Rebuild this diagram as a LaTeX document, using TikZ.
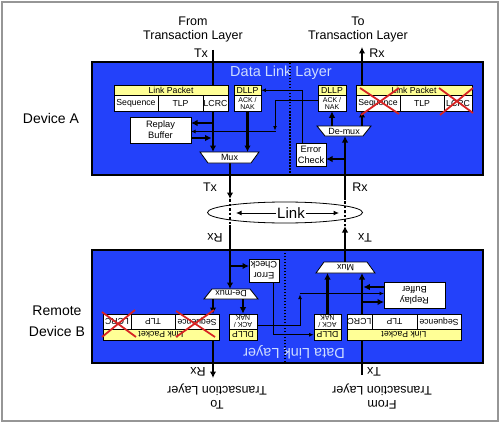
\documentclass[tikz,border=0pt]{standalone}
\usepackage{fontspec}
\setmainfont{Liberation Sans}
\usetikzlibrary{arrows.meta,shapes.geometric}
\definecolor{dlblue}{RGB}{35,65,250}
\definecolor{pyellow}{RGB}{255,255,150}
\definecolor{xred}{RGB}{215,35,35}
\definecolor{dltext}{RGB}{205,220,255}
\definecolor{framegray}{RGB}{150,150,150}
\tikzset{
  dllbox/.style={draw=black, fill=dlblue, line width=1.3pt, minimum width=391pt, minimum height=113pt, inner sep=0pt},
  dlltxt/.style={text=dltext, font=\fontsize{14.5}{16}\selectfont, inner sep=0pt},
  hdr/.style={draw=black, fill=pyellow, line width=0.6pt, inner sep=0pt, minimum height=10.5pt, font=\fontsize{8.7}{9}\selectfont},
  cell/.style={draw=black, fill=white, line width=0.6pt, inner sep=0pt, minimum height=15.5pt, font=\fontsize{8.7}{9}\selectfont},
  acktxt/.style={cell, align=center, font=\fontsize{7}{7.5}\selectfont},
  boxtxt/.style={draw=black, fill=white, line width=0.8pt, inner sep=0pt, align=center, font=\fontsize{9.3}{11}\selectfont},
  muxshape/.style={draw=black, fill=white, line width=0.8pt},
  muxtxt/.style={inner sep=0pt, font=\fontsize{9}{10}\selectfont},
  lbl/.style={inner sep=0pt, align=center, font=\fontsize{12.5}{14}\selectfont},
  devlbl/.style={inner sep=0pt, align=center, font=\fontsize{14}{21}\selectfont},
  thk/.style={line width=2.8pt, -{Latex[length=6.5pt,width=6.5pt]}},
  thn/.style={line width=0.9pt, -{Latex[length=4.5pt,width=4pt]}},
  lnkdash/.style={line width=2.8pt, dash pattern=on 2.5pt off 2pt},
  divider/.style={line width=1.5pt, dash pattern=on 1.5pt off 1.5pt},
  xline/.style={draw=xred, line width=1.8pt},
}
\newcommand\devcontent[1]{%
  \node[dllbox] (dll#1) at (287.5,118.5) {};
  \node[dlltxt] (dlt#1) at (281,73) {Data Link Layer};
  \coordinate (dvt#1) at (290,63);
  \coordinate (dvb#1) at (290,174);
  \draw[divider] (dvt#1) -- (dvb#1);
  % outside labels
  \node[lbl] (from#1) at (193,29) {From\\Transaction Layer};
  \node[lbl] (txa#1) at (201,53) {Tx};
  \node[lbl] (to#1) at (358,29) {To\\Transaction Layer};
  \node[lbl] (rxa#1) at (377,53) {Rx};
  \node[lbl] (txb#1) at (210,187) {Tx};
  \node[lbl] (rxb#1) at (360,187) {Rx};
  % coordinates
  \coordinate (tin#1) at (213,50);
  \coordinate (mi1#1) at (213,152);
  \coordinate (mi2#1) at (247.5,152);
  \coordinate (tr1#1) at (213,123);
  \coordinate (rb1#1) at (191,123);
  \coordinate (rb2#1) at (191,138);
  \coordinate (tr2#1) at (211.6,138);
  \coordinate (mo#1) at (230,163);
  \coordinate (lt#1) at (230,199);
  \coordinate (lc#1) at (230,212.5);
  \coordinate (rc#1) at (345,212.5);
  \coordinate (rt#1) at (345,200);
  \coordinate (dmi#1) at (345,136);
  \coordinate (ecj#1) at (345,159);
  \coordinate (ece#1) at (326,159);
  \coordinate (dmo1#1) at (332,126);
  \coordinate (dmo2#1) at (362,126);
  \coordinate (lpb#1) at (362,111);
  \coordinate (lpt#1) at (362,85);
  \coordinate (rout#1) at (362,47);
  \coordinate (d1#1) at (318,100);
  \coordinate (d2#1) at (275,100);
  \coordinate (d3#1) at (275,130.5);
  \coordinate (d4#1) at (275.5,131.5);
  \coordinate (rb3#1) at (191,131.5);
  \coordinate (e1#1) at (302,143);
  \coordinate (e2#1) at (302,90.25);
  % thick lines (behind boxes)
  \draw[thk] (tin#1) -- (mi1#1);
  \draw[thk] (lpt#1) -- (rout#1);
  \draw[thk] (dmi#1 |- rt#1) -- (dmi#1);
  \draw[lnkdash] (lt#1) -- (lc#1);
  \draw[lnkdash] (rc#1) -- (rt#1);
  \draw[thk] (mo#1) -- (lt#1);
  % boxes
  \node[hdr, minimum width=114pt] (lph#1) at (171,90.25) {Link Packet};
  \node[cell, minimum width=44pt] (seq#1) at (136,103.25) {Sequence};
  \node[cell, minimum width=45pt] (tlp#1) at (180.5,103.25) {TLP};
  \node[cell, minimum width=25pt] (lcrc#1) at (215.5,103.25) {LCRC};
  \node[hdr, minimum width=27pt] (dlh#1) at (247.5,90.25) {DLLP};
  \node[acktxt, minimum width=27pt] (ack#1) at (247.5,103.25) {ACK /\\NAK};
  \node[hdr, minimum width=28pt] (dlhr#1) at (332,90.25) {DLLP};
  \node[acktxt, minimum width=28pt] (ackr#1) at (332,103.25) {ACK /\\NAK};
  \node[hdr, minimum width=116pt] (lphr#1) at (414,90.25) {Link Packet};
  \node[cell, minimum width=44pt] (seqr#1) at (378,103.25) {Sequence};
  \node[cell, minimum width=44pt] (tlpr#1) at (422,103.25) {TLP};
  \node[cell, minimum width=28pt] (lcrcr#1) at (458,103.25) {LCRC};
  \node[boxtxt, minimum width=61pt, minimum height=26pt] (repl#1) at (160.5,130) {Replay\\Buffer};
  \node[boxtxt, minimum width=30pt, minimum height=23pt] (err#1) at (311,154.5) {Error\\Check};
  \draw[muxshape] (200,152) -- (259,152) -- (251,163) -- (208,163) -- cycle;
  \node[muxtxt] (mux#1) at (229.5,157.5) {Mux};
  \draw[muxshape] (317,126) -- (371,126) -- (363,136) -- (325,136) -- cycle;
  \node[muxtxt] (dmux#1) at (344,131) {De-mux};
  % connectors
  \draw[thk] (tr1#1) -- (rb1#1);
  \draw[thk] (rb2#1) -- (tr2#1);
  \draw[thk] (ack#1.south) -- (mi2#1);
  \draw[thk] (ecj#1) -- (ece#1);
  \draw[thk] (dmo1#1) -- (ackr#1.south);
  \draw[thk] (dmo2#1) -- (lpb#1);
  \draw[thn] (d1#1) -- (d2#1) -- (d3#1);
  \draw[thn] (d4#1) -- (rb3#1);
  \draw[thn] (e1#1) -- (e2#1) -- (dlh#1.east);
  % red crosses
  \draw[xline] (360,88) -- (399,114);
  \draw[xline] (399,88) -- (361,115);
  \draw[xline] (439,88) -- (473,113);
  \draw[xline] (473,88) -- (440,115);
}
\begin{document}
\begin{tikzpicture}[x=1pt,y=-1pt]
  \useasboundingbox (0,0) rectangle (500,425);
  \coordinate (fr1) at (1.5,2);
  \coordinate (fr2) at (498,421);
  \draw[framegray, line width=2pt] (fr1) rectangle (fr2);
  % link ellipse
  \node[draw=black, fill=white, line width=0.8pt, ellipse, minimum width=155pt, minimum height=21pt, inner sep=0pt] (lkell) at (285,212.5) {};
  \node[inner sep=1pt, font=\fontsize{15}{16}\selectfont] (link) at (291,213) {Link};
  \coordinate (lkl) at (236,213);
  \coordinate (lkr) at (339,213);
  \draw[line width=1pt, -{Latex[length=5.5pt,width=5pt]}] (link.west) -- (lkl);
  \draw[line width=1pt, -{Latex[length=5.5pt,width=5pt]}] (link.east) -- (lkr);
  % device labels
  \node[devlbl] (devA) at (51,118) {Device A};
  \node[devlbl] (devB) at (57,321.5) {Remote\\Device B};
  % device A
  \devcontent{A}
  % device B (rotated copy)
  \begin{scope}[rotate around={180:(287.5,212.5)}, transform shape]
    \devcontent{B}
  \end{scope}
\end{tikzpicture}
\end{document}
